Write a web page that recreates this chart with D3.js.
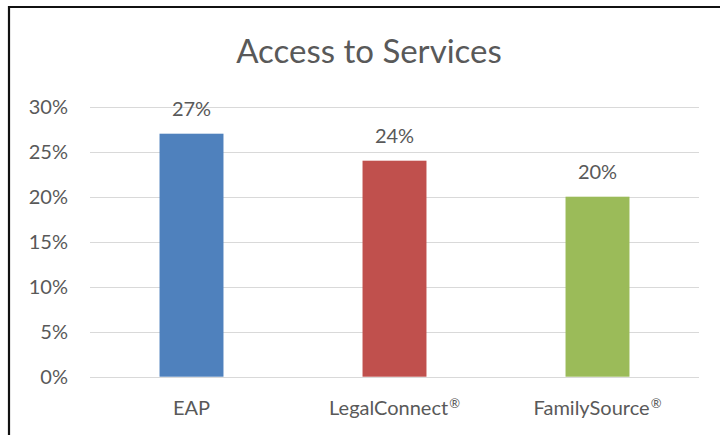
<!DOCTYPE html>
<html>
<head>
<meta charset="utf-8">
<script src="https://cdn.jsdelivr.net/npm/d3@7"></script>
<style>
  html, body { margin: 0; padding: 0; background: #fff; }
  text { font-family: Lato, "Open Sans", sans-serif; fill: #595959; }
</style>
</head>
<body>
<svg id="chart"></svg>
<script>
// chart data
var categories = ["EAP", "LegalConnect\u00AE", "FamilySource\u00AE"];
var values = [0.27, 0.24, 0.20];
var barColors = ["#4F81BD", "#C0504D", "#9BBB59"];
var yTicks = [0, 0.05, 0.10, 0.15, 0.20, 0.25, 0.30];
var title = "Access to Services";

var W = 720, H = 435;
var plot = { left: 90, right: 699, top: 106.7, bottom: 376.7 };

var svg = d3.select("#chart")
  .attr("width", W)
  .attr("height", H);

svg.append("rect")
  .attr("width", W).attr("height", H)
  .attr("fill", "#fff");

// frame (top + left edge visible)
svg.append("path")
  .attr("d", "M9," + H + " V7 H" + W)
  .attr("fill", "none")
  .attr("stroke", "#111")
  .attr("stroke-width", 2.2);

var x = d3.scaleBand()
  .domain(categories)
  .range([plot.left, plot.right])
  .paddingInner(0.685)
  .paddingOuter(0.3425);

var y = d3.scaleLinear()
  .domain([0, 0.30])
  .range([plot.bottom, plot.top]);

// gridlines
svg.append("g")
  .selectAll("line")
  .data(yTicks)
  .enter()
  .append("line")
  .attr("x1", plot.left)
  .attr("x2", plot.right)
  .attr("y1", function (d) { return Math.round(y(d)) + 0.5 })
  .attr("y2", function (d) { return Math.round(y(d)) + 0.5 })
  .attr("stroke", "#D9D9D9")
  .attr("stroke-width", 1);

// y axis labels
var yAxis = d3.axisLeft(y)
  .tickValues(yTicks)
  .tickFormat(d3.format(".0%"))
  .tickSize(0)
  .tickPadding(22);
var yg = svg.append("g")
  .attr("transform", "translate(" + plot.left + ",0)")
  .call(yAxis);
yg.select(".domain").remove();
yg.selectAll("text")
  .attr("font-size", "20px")
  .attr("font-family", "Lato, sans-serif")
  .attr("fill", "#595959");

// bars
svg.append("g")
  .selectAll("rect")
  .data(values)
  .enter()
  .append("rect")
  .attr("x", function (d, i) { return x(categories[i]) })
  .attr("y", function (d) { return y(d) })
  .attr("width", x.bandwidth())
  .attr("height", function (d) { return y(0) - y(d) })
  .attr("fill", function (d, i) { return barColors[i] });

// value labels
svg.append("g")
  .selectAll("text")
  .data(values)
  .enter()
  .append("text")
  .attr("text-anchor", "middle")
  .attr("font-size", "20px")
  .attr("x", function (d, i) { return x(categories[i]) + x.bandwidth() / 2 })
  .attr("y", function (d) { return y(d) - 18 })
  .text(function (d) { return d3.format(".0%")(d) });

// x axis labels, registered mark as small superscript
var xAxis = d3.axisBottom(x).tickSize(0).tickPadding(24);
var xg = svg.append("g")
  .attr("transform", "translate(0," + plot.bottom + ")")
  .call(xAxis);
xg.select(".domain").remove();
xg.selectAll("text")
  .attr("font-size", "20px")
  .attr("font-family", "Lato, sans-serif")
  .attr("fill", "#595959")
  .each(function (d) {
    var t = d3.select(this), parts = d.split("\u00AE");
    if (parts.length < 2) return;
    t.text(parts[0]);
    t.append("tspan")
      .attr("font-size", "13px")
      .attr("dy", "-0.55em")
      .attr("dx", "1")
      .text("\u00AE");
  });

// title
svg.append("text")
  .attr("x", 369)
  .attr("y", 63)
  .attr("text-anchor", "middle")
  .attr("font-size", "33px")
  .text(title);
</script>
</body>
</html>
